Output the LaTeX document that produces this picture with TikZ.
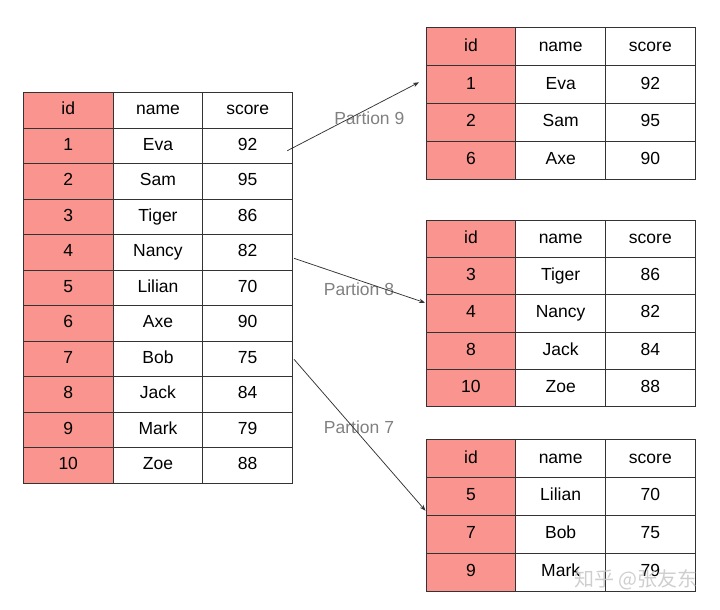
\documentclass[tikz,border=0pt]{standalone}
\usepackage{fontspec}
\setmainfont{Liberation Sans}
\newfontfamily\cjk{Noto Sans CJK SC}
\usetikzlibrary{arrows.meta}
\definecolor{idred}{HTML}{F9948E}
\definecolor{gridline}{HTML}{333333}
\definecolor{lblgray}{HTML}{808080}
\tikzset{
  cell/.style={draw=gridline, line width=0.8pt, minimum width=89.7pt, minimum height=#1,
    inner sep=0pt, text height=12.6pt, text depth=3.6pt, anchor=north west, font=\fontsize{17.5}{20}\selectfont},
  idcell/.style={cell=#1, fill=idred},
  conn/.style={draw=black!80, line width=0.75pt, -{Stealth[length=6pt,width=4.5pt]}},
  plabel/.style={text=lblgray, font=\fontsize{17.5}{20}\selectfont, inner sep=0pt}
}
% #1 prefix, #2 x, #3 y top, #4 row height, #5 rows
\newcommand\mktable[5]{%
  \node[idcell=#4] (#1-0-id) at (#2,#3) {id};
  \node[cell=#4] (#1-0-nm) at (#2+89.7,#3) {name};
  \node[cell=#4] (#1-0-sc) at (#2+179.4,#3) {score};
  \foreach \a/\b/\c [count=\r] in {#5} {
    \node[idcell=#4] (#1-\r-id) at (#2,{#3+\r*#4}) {\a};
    \node[cell=#4] (#1-\r-nm) at (#2+89.7,{#3+\r*#4}) {\b};
    \node[cell=#4] (#1-\r-sc) at (#2+179.4,{#3+\r*#4}) {\c};
  }%
}
\begin{document}
\begin{tikzpicture}[x=1pt,y=-1pt]
\useasboundingbox (0,0) rectangle (720,610);
\mktable{L}{23}{92}{35.5}{1/Eva/92,2/Sam/95,3/Tiger/86,4/Nancy/82,5/Lilian/70,6/Axe/90,7/Bob/75,8/Jack/84,9/Mark/79,10/Zoe/88}
\mktable{A}{425.7}{27.3}{37.9}{1/Eva/92,2/Sam/95,6/Axe/90}
\mktable{B}{425.7}{219.7}{37.3}{3/Tiger/86,4/Nancy/82,8/Jack/84,10/Zoe/88}
\mktable{C}{425.7}{439.3}{37.85}{5/Lilian/70,7/Bob/75,9/Mark/79}

\node[plabel] (p9) at (369.3,118.3) {Partion 9};
\node[plabel] (p8) at (359,289) {Partion 8};
\node[plabel] (p7) at (359,427.3) {Partion 7};

\coordinate (s1) at (287.3,150.7);
\coordinate (e1) at (419,82.3);
\coordinate (s2) at (294,258.3);
\coordinate (e2) at (425,302.7);
\coordinate (s3) at (294,359.3);
\coordinate (e3) at (425.5,510.7);
\draw[conn] (s1) -- (e1);
\draw[conn] (s2) -- (e2);
\draw[conn] (s3) -- (e3);

\node[text=gray!45, opacity=0.85, font=\cjk\fontsize{20}{22}\selectfont, inner sep=0pt] (wm) at (636,580) {知乎 @张友东};
\end{tikzpicture}
\end{document}
